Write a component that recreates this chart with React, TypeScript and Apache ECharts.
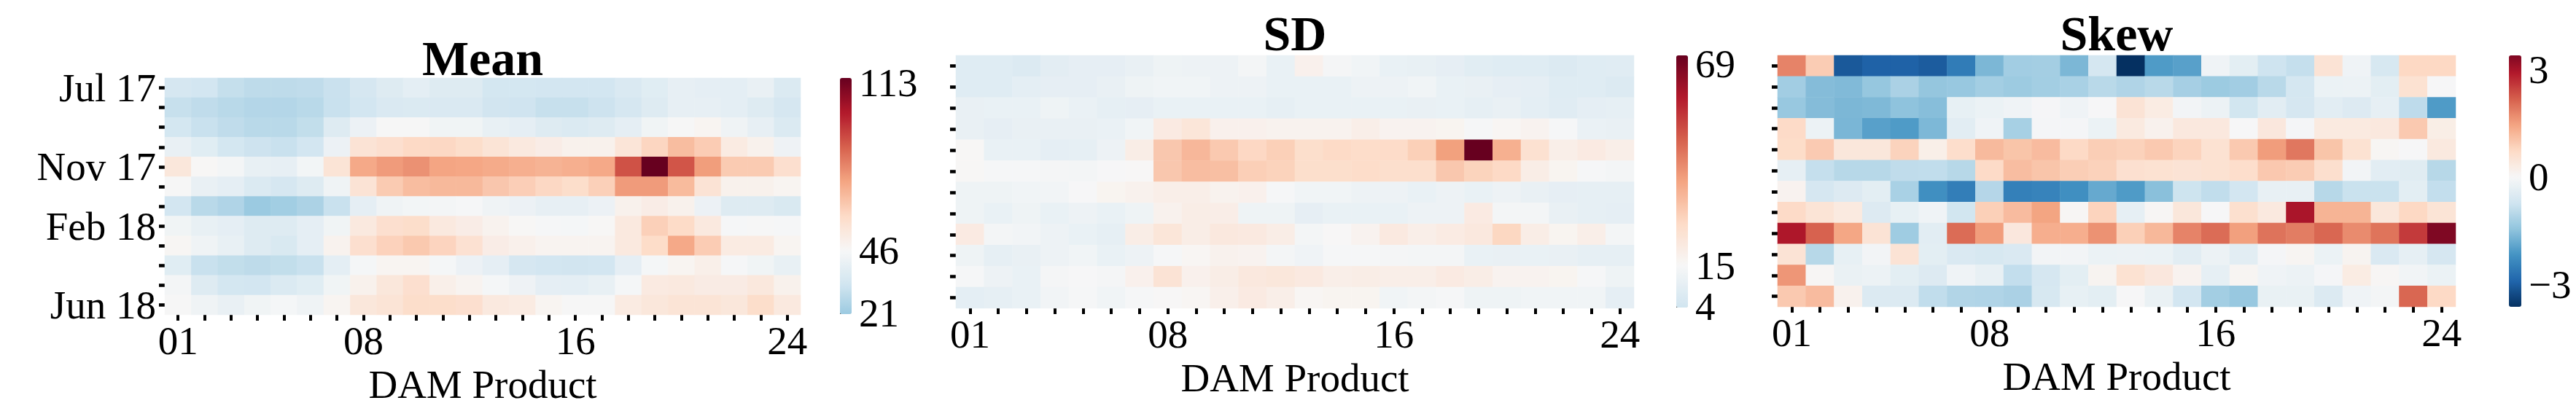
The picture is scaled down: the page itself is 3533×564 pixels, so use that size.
import React, { useEffect, useRef } from "react";
import * as echarts from "echarts";

// ---------- categories & tick labels ----------
const months = ["Jul 17", "Aug 17", "Sep 17", "Oct 17", "Nov 17", "Dec 17", "Jan 18", "Feb 18", "Mar 18", "Apr 18", "May 18", "Jun 18"];
const shownMonths = ["Jul 17", "Nov 17", "Feb 18", "Jun 18"];
const products = ["01", "02", "03", "04", "05", "06", "07", "08", "09", "10", "11", "12", "13", "14", "15", "16", "17", "18", "19", "20", "21", "22", "23", "24"];
const shownProducts = ["01", "08", "16", "24"];

// ---------- series values (rows = months, cols = products) ----------
const meanValues = [
  [34, 33, 29.5, 28, 28, 28.5, 30.6, 34, 37, 39, 37, 37, 33.5, 33.5, 33, 33, 33, 35.5, 38, 40, 39.5, 39, 41, 36],
  [30, 28.5, 27, 26, 26, 27, 30.5, 33, 35.5, 36, 35.5, 35.5, 32.5, 32, 30, 30, 31.5, 34, 37, 40, 40, 39, 37, 34],
  [33.5, 30.5, 28.5, 27, 27, 29, 37, 42, 46, 46, 43.5, 43.5, 40.5, 39.5, 37, 36, 37, 39.5, 43.5, 46, 47.5, 43, 40, 36],
  [41, 38, 33.5, 31.5, 30.5, 33, 42, 56, 57.5, 60, 60.5, 58.5, 55.5, 53, 51, 49, 49, 55, 61, 67.5, 63.5, 52, 49, 42.5],
  [54, 46.5, 44.5, 40.5, 40, 44, 55.5, 72.5, 75.5, 77.5, 73.5, 73, 72, 71, 70, 71, 72.5, 90, 114.9, 89.5, 75, 64, 64, 57.5],
  [46, 41, 39.5, 36, 34, 37, 43, 56, 64, 67.5, 68.5, 68.5, 65, 63, 60.5, 58.5, 62.5, 75.5, 75.5, 68, 56, 49, 49, 47.5],
  [33, 27, 25, 20.5, 22, 24, 30.5, 39.5, 43, 44, 44.5, 45.5, 43, 42, 40, 40, 42, 49, 51, 49, 42, 37, 37, 35],
  [43.5, 40.5, 39.5, 37, 37, 39.5, 43.5, 53, 57.5, 58.5, 53, 51, 48.5, 46.5, 45.5, 45, 46.5, 53, 62.5, 59.5, 53, 45.5, 46, 45.5],
  [47, 43, 40.5, 37, 35, 39.5, 48.5, 57.5, 62, 64.5, 61.5, 56.5, 51, 49.5, 48, 48, 48, 53, 59, 72.5, 63.5, 52, 52, 47.5],
  [38, 30.5, 29, 28, 29, 30.5, 39, 45, 47.5, 47.5, 45, 42, 39.5, 34, 33, 32.5, 33, 39.5, 45, 47.5, 50, 45.5, 43.5, 40.5],
  [44.5, 37, 33.5, 33, 36, 38, 43.5, 49, 54, 57.5, 50, 48, 45, 42.5, 39.5, 39, 40.5, 45, 52.5, 53, 51.5, 51.5, 53.5, 49],
  [46, 43, 41, 43.5, 45, 43, 47.5, 54, 55.5, 58.5, 58.5, 57.5, 53, 52, 47.5, 46, 46, 52, 54, 55.5, 55.5, 54, 58.5, 53],
];

const sdValues = [
  [7.8, 7.8, 7.2, 9, 9.8, 9.8, 10.7, 12.4, 12, 12, 13.8, 11, 17.7, 14, 13, 11, 10.4, 9.8, 8.6, 8, 8, 7, 7.8, 8.3],
  [7.8, 7.8, 9.2, 9.8, 9.8, 10.7, 12.4, 13, 13, 12, 12, 11, 11, 11, 12, 12, 13, 11, 10.7, 9.8, 9.7, 7.8, 7.8, 7.2],
  [10.7, 11, 11, 12.4, 11.3, 10, 9.8, 11, 11, 11, 11, 10, 11, 11, 11, 11, 10.7, 11, 10, 10.7, 9.2, 8.3, 9.5, 10],
  [10.7, 9.8, 10.7, 10.7, 10.7, 11.3, 13, 20, 22, 17.7, 17.7, 17.3, 17.3, 17.3, 18.5, 17, 17, 16.5, 14.5, 16, 17, 14.5, 11.3, 10.7],
  [15.5, 11, 11, 9.5, 10, 12, 19, 30.4, 33.6, 30, 26.8, 28.6, 25, 26.2, 25.6, 25.8, 28.6, 38.2, 71.2, 35.2, 24, 18.5, 20, 18.5],
  [15.5, 14.5, 14.5, 14, 13.8, 14.8, 15.3, 30.4, 32.4, 32, 28.8, 28, 25, 25, 25.5, 24.8, 24.8, 30.4, 27.8, 26.4, 19, 16.5, 14.5, 13.8],
  [12.4, 12.4, 13, 13.3, 14.8, 16.5, 17.5, 18.5, 18.5, 17.3, 17.7, 14.5, 13, 13, 12, 12, 11, 12, 11, 12, 10.7, 9.8, 10, 10],
  [12.4, 11, 12.4, 11, 12, 11, 12.4, 17.5, 19, 18.7, 12.4, 12.4, 9.8, 11, 11, 11, 12, 12, 20, 13.8, 13.8, 10.7, 10, 9.5],
  [20, 13.8, 13.3, 12, 11, 10, 19, 22, 19, 20.8, 20.4, 18.8, 13.8, 15.3, 17, 20.4, 18.5, 19.6, 20.8, 27, 19, 16.5, 18.5, 13.8],
  [12.4, 10, 10.7, 12, 13, 11, 12, 14.5, 16, 17.5, 17, 13.8, 12.7, 14.5, 14.5, 14.2, 13.8, 13.8, 11, 10.7, 11, 10.7, 10, 10],
  [14.5, 12, 11, 14.2, 14.8, 14.2, 17.7, 23, 17.7, 19, 20.8, 21.6, 20.4, 18.5, 19, 18.5, 18.5, 20, 19, 17, 17, 16.5, 14.5, 12.4],
  [9.2, 10, 11, 13.3, 14.5, 13, 14.5, 15.3, 16, 18, 20, 18.5, 16, 16.5, 16.5, 13, 13.8, 14.5, 12.4, 12.4, 13, 13, 13, 9.5],
];

const skewValues = [
  [1.8, 0.93, -3.07, -2.95, -2.95, -3.03, -2.54, -1.65, -1.27, -1.24, -1.65, -0.64, -3.62, -2.06, -1.98, -0.15, -0.37, -0.75, -0.86, 0.52, -0.15, -0.6, 0.75, 0.75],
  [-1.27, -1.57, -1.6, -1.4, -1.16, -1.42, -1.38, -1.25, -1.32, -1.25, -1.18, -1.0, -1.1, -1.0, -1.22, -1.33, -1.27, -1.0, -0.64, -0.22, -0.2, -0.37, 0.55, -0.03],
  [-1.38, -1.57, -1.65, -1.62, -1.47, -1.55, -0.3, -0.22, -0.15, -0.05, -0.15, -0.03, 0.52, 0.3, -0.1, -0.2, -0.7, -0.4, -0.62, -0.4, -0.5, -0.32, -0.94, -2.06],
  [0.7, -0.2, -1.67, -1.98, -2.06, -1.64, -0.4, -0.15, -1.2, -0.06, -0.06, -0.22, 0.35, 0.15, 0.38, 0.38, -0.03, 0.4, -0.06, 0.35, 0.35, 0.38, 0.97, 0.25],
  [0.68, 0.95, 0.42, 0.42, 0.83, 0.22, 0.64, 1.17, 1.03, 1.15, 0.72, 0.9, 0.85, 0.97, 0.82, 0.55, 0.97, 1.53, 1.93, 1.03, 0.55, 0.05, -0.03, 0.37],
  [-0.32, -0.86, -1.02, -1.02, -0.92, -0.9, -1.02, 0.7, 1.12, 1.02, 0.9, 0.85, 0.58, 0.55, 0.52, 0.55, 0.65, 0.98, 0.93, 0.62, -0.1, -0.4, -0.45, -1.02],
  [0.12, -0.62, -0.5, -0.37, -1.18, -2.24, -2.51, -1.05, -2.48, -2.43, -2.24, -1.85, -2.06, -1.52, -0.76, -0.9, -0.68, -0.28, -0.28, -1.02, -0.8, -0.8, -0.37, -0.88],
  [0.7, 0.5, 0.35, -0.5, -0.3, -0.15, -0.7, 0.88, 1.15, 1.45, 0.04, 0.82, -0.32, 0.04, 0.42, -0.03, 0.6, 0.37, 2.97, 1.25, 1.25, 0.42, 0.75, 0.5],
  [2.93, 2.15, 1.42, 0.52, -1.3, -0.4, 2.05, 1.53, 0.4, 1.32, 1.32, 1.65, 0.88, 1.2, 1.8, 2.05, 1.5, 1.98, 1.87, 2.1, 1.72, 1.97, 2.55, 3.39],
  [0.52, -1.02, -0.3, -0.1, 0.52, -0.37, -0.55, -0.6, -0.56, -0.1, -0.1, -0.22, -0.2, -0.22, -0.4, -0.2, -0.4, -0.06, 0.08, -0.22, 0.1, -0.56, -0.32, -0.62],
  [1.6, 0.04, -0.25, -0.2, -0.38, -0.5, -0.15, -0.28, -0.88, -0.62, -0.38, 0.1, 0.55, 0.4, 0.12, -0.32, 0.08, -0.15, -0.2, -0.07, 0.3, 0.04, -0.12, -0.22],
  [0.97, 1.15, 0.15, -0.52, -0.52, -0.9, -1.08, -1.1, -1.16, -0.6, -0.3, -0.37, -0.03, -0.25, -0.68, -1.25, -1.38, -0.26, -0.26, -0.52, -0.15, -0.08, 2.1, 0.72],
];

// colour scale ranges, centres and colourbar ticks
const meanRange = [20.5, 114.9];
const meanCenter = 46;
const meanTicks = [21, 46, 113];
const sdRange = [3.7, 71.2];
const sdCenter = 15;
const sdTicks = [4, 15, 69];
const skewRange = [-3.62, 3.39];
const skewCenter = 0;
const skewTicks = [-3, 0, 3];

// ---------- colormap (RdBu_r) ----------
const RDBU_R = [
  [5, 48, 97], [33, 102, 172], [67, 147, 195], [146, 197, 222], [209, 229, 240],
  [247, 247, 247], [253, 219, 199], [244, 165, 130], [214, 96, 77], [178, 24, 43], [103, 0, 31],
];
function cmap(t: number): string {
  const tt = Math.max(0, Math.min(1, t));
  const s = tt * 10;
  const i = Math.min(9, Math.floor(s));
  const f = s - i;
  const a = RDBU_R[i];
  const b = RDBU_R[i + 1];
  const c = a.map((v, k) => Math.round(v + (b[k] - v) * f));
  return `rgb(${c[0]},${c[1]},${c[2]})`;
}
function centeredColors(min: number, max: number, center: number): string[] {
  const vr = Math.max(max - center, center - min);
  const out: string[] = [];
  const n = 80;
  for (let k = 0; k <= n; k++) {
    const v = min + ((max - min) * k) / n;
    out.push(cmap((v - (center - vr)) / (2 * vr)));
  }
  return out;
}

const FONT = "Liberation Serif";
const LABEL_SIZE = 55;

type Panel = {
  title: string;
  values: number[][];
  range: number[];
  center: number;
  ticks: number[];
  grid: { left: number; top: number; width: number; height: number };
  bar: { left: number; top: number; width: number; height: number };
  titleTop: number;
  monthLabels: boolean;
};

const panels: Panel[] = [
  {
    title: "Mean", values: meanValues, range: meanRange, center: meanCenter, ticks: meanTicks,
    grid: { left: 226, top: 107, width: 872, height: 325 },
    bar: { left: 1152, top: 107, width: 16, height: 324 },
    titleTop: 46, monthLabels: true,
  },
  {
    title: "SD", values: sdValues, range: sdRange, center: sdCenter, ticks: sdTicks,
    grid: { left: 1311, top: 76, width: 930, height: 347 },
    bar: { left: 2299, top: 76, width: 16, height: 346 },
    titleTop: 12, monthLabels: false,
  },
  {
    title: "Skew", values: skewValues, range: skewRange, center: skewCenter, ticks: skewTicks,
    grid: { left: 2438, top: 76, width: 930, height: 345 },
    bar: { left: 3441, top: 76, width: 17, height: 345 },
    titleTop: 12, monthLabels: false,
  },
];

function fmtTick(v: number): string {
  return v < 0 ? "\u2212" + Math.abs(v) : String(v);
}

function buildOption() {
  const grids: any[] = [];
  const xAxes: any[] = [];
  const yAxes: any[] = [];
  const series: any[] = [];
  const visualMaps: any[] = [];
  const titles: any[] = [];

  panels.forEach((p, i) => {
    grids.push({ ...p.grid, containLabel: false, outerBoundsMode: "none" });
    xAxes.push({
      type: "category", gridIndex: i, data: products, position: "bottom",
      axisLine: { show: false },
      axisTick: { show: true, alignWithLabel: true, interval: 0, length: 8, lineStyle: { color: "#000", width: 4 } },
      axisLabel: {
        interval: (_idx: number, val: string) => shownProducts.includes(val),
        fontSize: LABEL_SIZE, fontFamily: FONT, color: "#000", margin: 8,
      },
      name: "DAM Product", nameLocation: "middle", nameGap: 66,
      nameTextStyle: { fontSize: LABEL_SIZE, fontFamily: FONT, color: "#000" },
      splitLine: { show: false }, splitArea: { show: false },
    });
    yAxes.push({
      type: "category", gridIndex: i, data: months, inverse: true,
      axisLine: { show: false },
      axisTick: { show: true, alignWithLabel: true, interval: 0, length: 8, lineStyle: { color: "#000", width: 4.5 } },
      axisLabel: {
        show: p.monthLabels,
        interval: (_idx: number, val: string) => shownMonths.includes(val),
        fontSize: LABEL_SIZE, fontFamily: FONT, color: "#000", margin: 12,
      },
      splitLine: { show: false }, splitArea: { show: false },
    });
    const data: number[][] = [];
    p.values.forEach((row, r) => row.forEach((v, c) => data.push([c, r, v])));
    series.push({
      type: "heatmap", xAxisIndex: i, yAxisIndex: i, data,
      emphasis: { disabled: true }, progressive: 0,
    });
    visualMaps.push({
      type: "continuous", seriesIndex: i, dimension: 2,
      min: p.range[0], max: p.range[1],
      inRange: { color: centeredColors(p.range[0], p.range[1], p.center) },
      calculable: false, show: true, orient: "vertical",
      left: p.bar.left, top: p.bar.top, itemWidth: p.bar.width, itemHeight: p.bar.height,
      padding: 0, text: null, hoverLink: false, realtime: false,
    });
    titles.push({
      text: p.title, left: p.grid.left + p.grid.width / 2, top: p.titleTop, textAlign: "center", padding: 0,
      textStyle: { fontSize: 68, fontWeight: "bold", fontFamily: FONT, color: "#000" },
    });
  });

  // colourbar tick axes
  panels.forEach((p, i) => {
    const gi = panels.length + i;
    grids.push({ ...p.bar, containLabel: false, outerBoundsMode: "none" });
    xAxes.push({ type: "value", gridIndex: gi, show: false });
    yAxes.push({
      type: "value", gridIndex: gi, min: p.range[0], max: p.range[1], position: "right",
      axisLine: { show: false }, splitLine: { show: false },
      axisTick: { show: true, customValues: p.ticks, length: 5, lineStyle: { color: "#000", width: 1.5 } },
      axisLabel: {
        customValues: p.ticks, formatter: (v: number) => fmtTick(v),
        fontSize: LABEL_SIZE, fontFamily: FONT, color: "#000", margin: 10,
      },
    });
  });

  return {
    animation: false,
    backgroundColor: "#fff",
    textStyle: { fontFamily: FONT },
    title: titles,
    grid: grids,
    xAxis: xAxes,
    yAxis: yAxes,
    visualMap: visualMaps,
    series,
  };
}

export default function App() {
  const ref = useRef<HTMLDivElement>(null);
  useEffect(() => {
    if (!ref.current) return;
    const chart = echarts.init(ref.current, undefined, { renderer: "svg" });
    chart.setOption(buildOption() as any);
    return () => chart.dispose();
  }, []);
  return (
    <div
      ref={ref}
      style={{ position: "fixed", left: 0, top: 0, width: 3533, height: 564, background: "#fff" }}
    />
  );
}
